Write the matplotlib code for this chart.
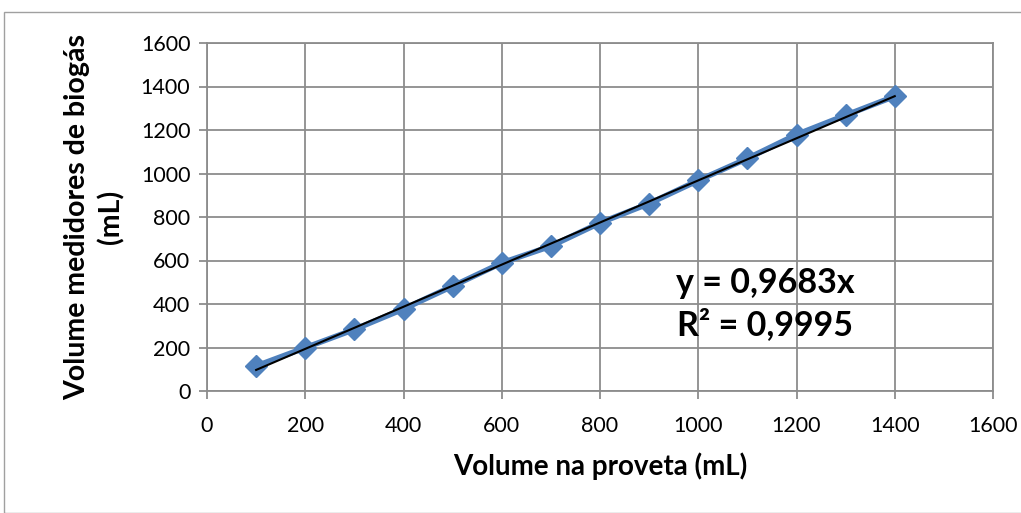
import numpy as np
import matplotlib.pyplot as plt
from matplotlib.patches import Rectangle

plt.rcParams['font.family'] = ['Lato', 'DejaVu Sans']

# volume read on the graduated cylinder vs volume from the biogas meters
vol_proveta = [100, 200, 300, 400, 500, 600, 700, 800, 900, 1000, 1100, 1200, 1300, 1400]
vol_medidor = [115, 199, 283, 377, 482, 589, 666, 773, 862, 968, 1069, 1179, 1268, 1355]
slope = 0.9683
ticks = [0, 200, 400, 600, 800, 1000, 1200, 1400, 1600]

fig = plt.figure(figsize=(10.21, 5.13), dpi=100)
ax = fig.add_axes([207 / 1021, 1 - 391 / 513, (993 - 207) / 1021, (391 - 43) / 513])

# chart area border
fig.patches.append(Rectangle((4 / 1021, 0), 1.2, (513 - 12) / 513, transform=fig.transFigure,
                             fill=False, edgecolor='#a0a0a0', linewidth=1))

ax.plot(vol_proveta, vol_medidor, color='#4f81bd', linewidth=4, marker='D',
        markersize=11, zorder=3)
xt = np.array([vol_proveta[0], vol_proveta[-1]])
ax.plot(xt, slope * xt, color='black', linewidth=1.5, zorder=4)

ax.set_xlim(0, 1600)
ax.set_ylim(0, 1600)
ax.set_xticks(ticks)
ax.set_yticks(ticks)
ax.grid(True, color='#8c8c8c', linewidth=1.3)
ax.set_axisbelow(True)
for s in ax.spines.values():
    s.set_color('#8c8c8c')
    s.set_linewidth(1.3)
ax.tick_params(axis='both', colors='#8c8c8c', labelcolor='black', labelsize=15.5,
               length=6, width=1.3)
ax.tick_params(axis='x', pad=12)
ax.tick_params(axis='y', pad=6)

ax.set_xlabel('Volume na proveta (mL)', fontsize=20, fontweight='bold', labelpad=12)
ax.set_ylabel('Volume medidores de biogás\n(mL)', fontsize=20.5, fontweight='bold',
              labelpad=12, linespacing=1.3)

ax.text(1136, 570, 'y = 0,9683x\nR² = 0,9995', fontsize=24.5, fontweight='bold',
        ha='center', va='top', linespacing=1.35)

fig.savefig('out.png', dpi=100)
